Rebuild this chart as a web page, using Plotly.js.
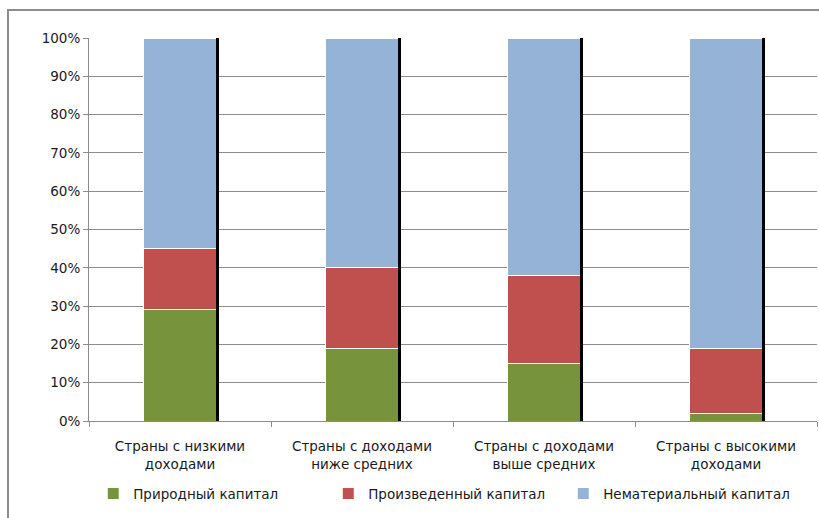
<!DOCTYPE html>
<html><head><meta charset="utf-8">
<script src="https://cdn.plot.ly/plotly-3.0.1.min.js"></script>
<style>
html,body{margin:0;padding:0;background:#fff;overflow:hidden}
#wrap{position:relative;width:819px;height:518px}
#chart{position:absolute;left:0;top:0;width:819px;height:518px}
#frame{position:absolute;left:7px;top:9px;width:840px;height:540px;border:2px solid #8c8c8c;pointer-events:none;box-sizing:border-box}
</style></head>
<body><div id="wrap"><div id="chart"></div><div id="frame"></div></div>
<script>
const categories = ["Страны с низкими<br>доходами", "Страны с доходами<br>ниже средних", "Страны с доходами<br>выше средних", "Страны с высокими<br>доходами"];
const natural = [29, 19, 15, 2];
const produced = [16, 21, 23, 17];
const intangible = [55, 60, 62, 81];
const seriesNames = ["Природный капитал", "Произведенный капитал", "Нематериальный капитал"];
const totals = natural.map((v, i) => v + produced[i] + intangible[i]);

const font = {family: "DejaVu Sans, Verdana, sans-serif", size: 13.5, color: "#1a1a1a"};
const mk = (c) => ({color: c, line: {color: "#ffffff", width: 1}});
const traces = [
  {type: "bar", name: seriesNames[0], x: categories, y: natural, marker: mk("#77933C"), width: 0.4},
  {type: "bar", name: seriesNames[1], x: categories, y: produced, marker: mk("#C0504D"), width: 0.4},
  {type: "bar", name: seriesNames[2], x: categories, y: intangible, marker: mk("#95B3D7"), width: 0.4},
  {type: "bar", x: categories, y: totals, yaxis: "y2", width: 0.017, offset: 0.2,
   marker: {color: "#000000", line: {width: 0}}, showlegend: false, hoverinfo: "skip"}
];
const layout = {
  width: 819, height: 518,
  margin: {l: 89, r: 2, t: 38, b: 97},
  barmode: "stack",
  paper_bgcolor: "#ffffff", plot_bgcolor: "#ffffff",
  font: font,
  showlegend: true,
  legend: {orientation: "h", x: 0.49, xanchor: "center", y: -0.19, yanchor: "middle",
           font: font, traceorder: "normal", entrywidth: 190},
  xaxis: {type: "category", tickson: "boundaries", ticks: "outside", ticklen: 5,
          tickcolor: "#8c8c8c", showline: true, linecolor: "#8c8c8c", linewidth: 1,
          showgrid: false, tickfont: font, ticklabelstandoff: 13, fixedrange: true},
  yaxis: {range: [0, 100], dtick: 10, ticksuffix: "%", ticks: "outside", ticklen: 5,
          tickcolor: "#8c8c8c", showline: true, linecolor: "#8c8c8c", linewidth: 1,
          gridcolor: "#8c8c8c", gridwidth: 1, zeroline: false, tickfont: font, fixedrange: true},
  yaxis2: {range: [0, 100], overlaying: "y", visible: false, fixedrange: true}
};
Plotly.newPlot("chart", traces, layout, {displayModeBar: false, staticPlot: true});
</script></body></html>
